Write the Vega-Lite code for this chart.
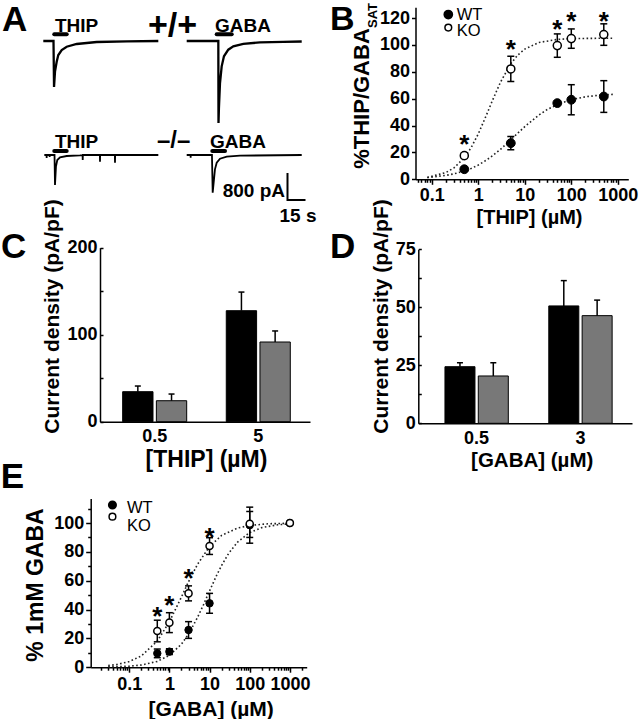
{
 "$schema": "https://vega.github.io/schema/vega-lite/v6.json",
 "width": 644, "height": 719, "autosize": {"type": "none"}, "padding": 0, "background": "white",
 "config": {
  "font": "Liberation Sans",
  "view": {"stroke": null},
  "axis": {"domainColor": "black", "domainWidth": 1.5, "tickColor": "black", "tickWidth": 1.5, "tickSize": 4,
   "labelColor": "black", "labelFont": "Liberation Sans", "labelFontSize": 18, "labelFontWeight": "bold", "labelPadding": 2,
   "titleColor": "black", "titleFont": "Liberation Sans", "titleFontSize": 21, "titleFontWeight": "bold", "titlePadding": 6,
   "grid": false, "labelOverlap": false, "labelFlush": false},
  "text": {"font": "Liberation Sans", "color": "black"}
 },
 "datasets": {
  "aTop": [
   {"drug": "THIP", "t": 0.25, "I": 0}, {"drug": "THIP", "t": 8.1, "I": 0}, {"drug": "THIP", "t": 8.75, "I": 0},
   {"drug": "THIP", "t": 9.2, "I": -1363}, {"drug": "THIP", "t": 10, "I": -909}, {"drug": "THIP", "t": 11.4, "I": -613},
   {"drug": "THIP", "t": 12.75, "I": -415}, {"drug": "THIP", "t": 15.6, "I": -267}, {"drug": "THIP", "t": 19.75, "I": -169},
   {"drug": "THIP", "t": 28.1, "I": -89}, {"drug": "THIP", "t": 44.75, "I": -30}, {"drug": "THIP", "t": 70, "I": -10},
   {"drug": "THIP", "t": 96.1, "I": 0},
   {"drug": "GABA", "t": 119.75, "I": 0}, {"drug": "GABA", "t": 144.75, "I": 0}, {"drug": "GABA", "t": 146.1, "I": 0},
   {"drug": "GABA", "t": 146.25, "I": -2430}, {"drug": "GABA", "t": 146.6, "I": -2000}, {"drug": "GABA", "t": 147.5, "I": -1245},
   {"drug": "GABA", "t": 148.9, "I": -750}, {"drug": "GABA", "t": 150.8, "I": -454}, {"drug": "GABA", "t": 154.4, "I": -257},
   {"drug": "GABA", "t": 158.6, "I": -158}, {"drug": "GABA", "t": 166.9, "I": -87}, {"drug": "GABA", "t": 180.8, "I": -40},
   {"drug": "GABA", "t": 200.25, "I": -27}, {"drug": "GABA", "t": 215.6, "I": -15}
  ],
  "aBot": [
   {"drug": "THIP", "t": 1.1, "I": 0}, {"drug": "THIP", "t": 3, "I": 0}, {"drug": "THIP", "t": 3.05, "I": -90}, {"drug": "THIP", "t": 3.1, "I": 0},
   {"drug": "THIP", "t": 5.5, "I": 0}, {"drug": "THIP", "t": 5.55, "I": -60}, {"drug": "THIP", "t": 5.6, "I": 0},
   {"drug": "THIP", "t": 8.6, "I": 0}, {"drug": "THIP", "t": 9.6, "I": 0}, {"drug": "THIP", "t": 10, "I": -889},
   {"drug": "THIP", "t": 10.8, "I": -346}, {"drug": "THIP", "t": 11.9, "I": -148}, {"drug": "THIP", "t": 14.2, "I": -69},
   {"drug": "THIP", "t": 19.75, "I": -30}, {"drug": "THIP", "t": 30.8, "I": -9},
   {"drug": "THIP", "t": 33, "I": 0}, {"drug": "THIP", "t": 33.1, "I": -150}, {"drug": "THIP", "t": 33.2, "I": 0},
   {"drug": "THIP", "t": 47.4, "I": 0}, {"drug": "THIP", "t": 47.5, "I": -198}, {"drug": "THIP", "t": 47.6, "I": 0},
   {"drug": "THIP", "t": 59.9, "I": 0}, {"drug": "THIP", "t": 60, "I": -227}, {"drug": "THIP", "t": 60.1, "I": 0},
   {"drug": "THIP", "t": 96.1, "I": 0},
   {"drug": "GABA", "t": 119.75, "I": 0}, {"drug": "GABA", "t": 123, "I": 0}, {"drug": "GABA", "t": 123.05, "I": -80}, {"drug": "GABA", "t": 123.1, "I": 0},
   {"drug": "GABA", "t": 139.2, "I": 0}, {"drug": "GABA", "t": 140.8, "I": 0}, {"drug": "GABA", "t": 141.4, "I": -1116},
   {"drug": "GABA", "t": 143.3, "I": -425}, {"drug": "GABA", "t": 144.75, "I": -227}, {"drug": "GABA", "t": 147.5, "I": -109},
   {"drug": "GABA", "t": 153.1, "I": -49}, {"drug": "GABA", "t": 164.2, "I": -20}, {"drug": "GABA", "t": 215.6, "I": 0}
  ],
  "aTopBars": [{"drug": "THIP", "t": 9.4, "t2": 19.75, "I": 198}, {"drug": "GABA", "t": 144.75, "t2": 157.25, "I": 198}],
  "aBotBars": [{"drug": "THIP", "t": 9.4, "t2": 19.75, "I": 119}, {"drug": "GABA", "t": 141.1, "t2": 151.7, "I": 119}],
  "aTopText": [{"label": "THIP", "t": 10, "I": 267}, {"label": "GABA", "t": 143.3, "I": 267}],
  "aBotText": [{"label": "THIP", "t": 10, "I": 222}, {"label": "GABA", "t": 139.2, "I": 222}],
  "scaleBar": [{"k": 0, "t": 203.75, "I": -533}, {"k": 1, "t": 203.75, "I": -1333}, {"k": 2, "t": 218.75, "I": -1333}],
  "bPts": [
   {"genotype": "WT", "conc": 0.5, "mean": 7.5, "lo": 6, "hi": 9},
   {"genotype": "WT", "conc": 5, "mean": 26.9, "lo": 22, "hi": 31.8},
   {"genotype": "WT", "conc": 50, "mean": 56.7, "lo": 55.5, "hi": 58},
   {"genotype": "WT", "conc": 100, "mean": 59.2, "lo": 48, "hi": 70.4},
   {"genotype": "WT", "conc": 500, "mean": 61.6, "lo": 49.8, "hi": 73.4},
   {"genotype": "KO", "conc": 0.5, "mean": 17.6, "lo": 15.6, "hi": 19.6},
   {"genotype": "KO", "conc": 5, "mean": 82.1, "lo": 72.7, "hi": 91.5},
   {"genotype": "KO", "conc": 50, "mean": 99.5, "lo": 90.8, "hi": 108.2},
   {"genotype": "KO", "conc": 100, "mean": 104.7, "lo": 97.5, "hi": 111.9},
   {"genotype": "KO", "conc": 500, "mean": 107.7, "lo": 99.7, "hi": 115.7}
  ],
  "bFit": [
   {"genotype": "KO", "conc": 0.08, "value": 1.4}, {"genotype": "KO", "conc": 0.2, "value": 5.0}, {"genotype": "KO", "conc": 0.3, "value": 8.5},
   {"genotype": "KO", "conc": 0.5, "value": 16.0}, {"genotype": "KO", "conc": 0.7, "value": 23.5}, {"genotype": "KO", "conc": 1, "value": 33.8},
   {"genotype": "KO", "conc": 1.5, "value": 47.9}, {"genotype": "KO", "conc": 2, "value": 58.4}, {"genotype": "KO", "conc": 3, "value": 72.3},
   {"genotype": "KO", "conc": 5, "value": 86.0}, {"genotype": "KO", "conc": 7, "value": 92.3}, {"genotype": "KO", "conc": 10, "value": 96.9},
   {"genotype": "KO", "conc": 20, "value": 101.8}, {"genotype": "KO", "conc": 50, "value": 104.1}, {"genotype": "KO", "conc": 100, "value": 104.7},
   {"genotype": "KO", "conc": 300, "value": 104.9}, {"genotype": "KO", "conc": 800, "value": 105},
   {"genotype": "WT", "conc": 0.08, "value": 1.3}, {"genotype": "WT", "conc": 0.2, "value": 2.9}, {"genotype": "WT", "conc": 0.3, "value": 4.05},
   {"genotype": "WT", "conc": 0.5, "value": 6.2}, {"genotype": "WT", "conc": 0.7, "value": 8.1}, {"genotype": "WT", "conc": 1, "value": 10.6},
   {"genotype": "WT", "conc": 1.5, "value": 14.3}, {"genotype": "WT", "conc": 2, "value": 17.4}, {"genotype": "WT", "conc": 3, "value": 22.3},
   {"genotype": "WT", "conc": 5, "value": 29.4}, {"genotype": "WT", "conc": 7, "value": 34.2}, {"genotype": "WT", "conc": 10, "value": 39.2},
   {"genotype": "WT", "conc": 20, "value": 47.8}, {"genotype": "WT", "conc": 30, "value": 51.8}, {"genotype": "WT", "conc": 50, "value": 55.7},
   {"genotype": "WT", "conc": 100, "value": 59.3}, {"genotype": "WT", "conc": 200, "value": 61.4}, {"genotype": "WT", "conc": 400, "value": 62.6},
   {"genotype": "WT", "conc": 800, "value": 63.2}
  ],
  "bStar": [{"conc": 0.5, "y": 30.6}, {"conc": 5, "y": 101.5}, {"conc": 50, "y": 116.4}, {"conc": 100, "y": 122.6}, {"conc": 500, "y": 122.6}],
  "cBars": [
   {"conc": "0.5", "genotype": "WT", "mean": 34.5, "hi": 41},
   {"conc": "0.5", "genotype": "KO", "mean": 24.1, "hi": 31.8},
   {"conc": "5", "genotype": "WT", "mean": 127.6, "hi": 149},
   {"conc": "5", "genotype": "KO", "mean": 91.6, "hi": 104.3}
  ],
  "dBars": [
   {"conc": "0.5", "genotype": "WT", "mean": 24.4, "hi": 26.1},
   {"conc": "0.5", "genotype": "KO", "mean": 20.4, "hi": 26.1},
   {"conc": "3", "genotype": "WT", "mean": 50.6, "hi": 61.5},
   {"conc": "3", "genotype": "KO", "mean": 46.4, "hi": 53.1}
  ],
  "ePts": [
   {"genotype": "WT", "conc": 0.5, "mean": 9.6, "lo": 6.6, "hi": 12.6},
   {"genotype": "WT", "conc": 1, "mean": 10.8, "lo": 8.8, "hi": 12.8},
   {"genotype": "WT", "conc": 3, "mean": 25.8, "lo": 20, "hi": 31.6},
   {"genotype": "WT", "conc": 10, "mean": 44.3, "lo": 37.4, "hi": 51.2},
   {"genotype": "WT", "conc": 100, "mean": 98.5, "lo": 86, "hi": 111},
   {"genotype": "WT", "conc": 1000, "mean": 100, "lo": 100, "hi": 100},
   {"genotype": "KO", "conc": 0.5, "mean": 25.1, "lo": 17.6, "hi": 32.6},
   {"genotype": "KO", "conc": 1, "mean": 30.9, "lo": 24, "hi": 37.8},
   {"genotype": "KO", "conc": 3, "mean": 51.2, "lo": 46, "hi": 56.4},
   {"genotype": "KO", "conc": 10, "mean": 84, "lo": 78.2, "hi": 89.8},
   {"genotype": "KO", "conc": 100, "mean": 99.5, "lo": 90, "hi": 108},
   {"genotype": "KO", "conc": 1000, "mean": 100, "lo": 100, "hi": 100}
  ],
  "eFit": [
   {"genotype": "KO", "conc": 0.03, "value": 1.1}, {"genotype": "KO", "conc": 0.05, "value": 1.9}, {"genotype": "KO", "conc": 0.1, "value": 3.9},
   {"genotype": "KO", "conc": 0.2, "value": 7.8}, {"genotype": "KO", "conc": 0.5, "value": 18.1}, {"genotype": "KO", "conc": 1, "value": 31.5},
   {"genotype": "KO", "conc": 2, "value": 48.7}, {"genotype": "KO", "conc": 3, "value": 59.3}, {"genotype": "KO", "conc": 5, "value": 71.3},
   {"genotype": "KO", "conc": 10, "value": 83.7}, {"genotype": "KO", "conc": 20, "value": 91.4}, {"genotype": "KO", "conc": 50, "value": 96.5},
   {"genotype": "KO", "conc": 100, "value": 98.3}, {"genotype": "KO", "conc": 300, "value": 99.5}, {"genotype": "KO", "conc": 1000, "value": 99.8},
   {"genotype": "WT", "conc": 0.03, "value": 0.2}, {"genotype": "WT", "conc": 0.1, "value": 0.7}, {"genotype": "WT", "conc": 0.2, "value": 1.5},
   {"genotype": "WT", "conc": 0.5, "value": 4.0}, {"genotype": "WT", "conc": 1, "value": 8.2}, {"genotype": "WT", "conc": 2, "value": 16.0},
   {"genotype": "WT", "conc": 3, "value": 23.0}, {"genotype": "WT", "conc": 5, "value": 34.4}, {"genotype": "WT", "conc": 7, "value": 43.1},
   {"genotype": "WT", "conc": 10, "value": 52.9}, {"genotype": "WT", "conc": 15, "value": 63.7}, {"genotype": "WT", "conc": 20, "value": 70.6},
   {"genotype": "WT", "conc": 30, "value": 79.0}, {"genotype": "WT", "conc": 50, "value": 86.8}, {"genotype": "WT", "conc": 100, "value": 93.4},
   {"genotype": "WT", "conc": 200, "value": 96.8}, {"genotype": "WT", "conc": 500, "value": 98.8}, {"genotype": "WT", "conc": 1000, "value": 99.4}
  ],
  "eStar": [{"conc": 0.5, "y": 39.7}, {"conc": 1, "y": 47}, {"conc": 3, "y": 66.2}, {"conc": 10, "y": 94.7}]
 },
 "layer": [
  {
   "layer": [
    {"data": {"name": "aTop"}, "mark": {"type": "line", "color": "black", "strokeWidth": 2.3},
     "encoding": {
      "x": {"field": "t", "type": "quantitative", "scale": {"domain": [0, 220], "range": [43, 307], "nice": false, "zero": false}, "axis": null},
      "y": {"field": "I", "type": "quantitative", "scale": {"domain": [-3000, 500], "range": [142.25, 24.125], "nice": false, "zero": false}, "axis": null},
      "detail": {"field": "drug", "type": "nominal"}}},
    {"data": {"name": "aTopBars"}, "mark": {"type": "rule", "color": "black", "strokeWidth": 4, "strokeCap": "round"},
     "encoding": {"x": {"field": "t", "type": "quantitative", "axis": null}, "x2": {"field": "t2"}, "y": {"field": "I", "type": "quantitative", "axis": null}}},
    {"data": {"name": "aTopText"}, "mark": {"type": "text", "align": "left", "baseline": "alphabetic", "fontSize": 19, "fontWeight": "bold", "color": "black"},
     "encoding": {"x": {"field": "t", "type": "quantitative", "axis": null}, "y": {"field": "I", "type": "quantitative", "axis": null}, "text": {"field": "label"}}},
    {"data": {"values": [{}]}, "mark": {"type": "text", "text": "+/+", "align": "left", "baseline": "alphabetic", "fontSize": 34, "fontWeight": "bold", "color": "black"},
     "encoding": {"x": {"datum": 87.5, "type": "quantitative", "axis": null}, "y": {"datum": 148, "type": "quantitative", "axis": null}}},
    {"data": {"values": [{}]}, "mark": {"type": "text", "text": "A", "align": "left", "baseline": "alphabetic", "fontSize": 35, "fontWeight": "bold", "color": "black"},
     "encoding": {"x": {"datum": -34.2, "type": "quantitative", "axis": null}, "y": {"datum": 296, "type": "quantitative", "axis": null}}}
   ]
  },
  {
   "layer": [
    {"data": {"name": "aBot"}, "mark": {"type": "line", "color": "black", "strokeWidth": 1.8},
     "encoding": {
      "x": {"field": "t", "type": "quantitative", "scale": {"domain": [0, 220], "range": [43, 307], "nice": false, "zero": false}, "axis": null},
      "y": {"field": "I", "type": "quantitative", "scale": {"domain": [-3000, 500], "range": [256.25, 138.125], "nice": false, "zero": false}, "axis": null},
      "detail": {"field": "drug", "type": "nominal"}}},
    {"data": {"name": "aBotBars"}, "mark": {"type": "rule", "color": "black", "strokeWidth": 4, "strokeCap": "round"},
     "encoding": {"x": {"field": "t", "type": "quantitative", "axis": null}, "x2": {"field": "t2"}, "y": {"field": "I", "type": "quantitative", "axis": null}}},
    {"data": {"name": "aBotText"}, "mark": {"type": "text", "align": "left", "baseline": "alphabetic", "fontSize": 19, "fontWeight": "bold", "color": "black"},
     "encoding": {"x": {"field": "t", "type": "quantitative", "axis": null}, "y": {"field": "I", "type": "quantitative", "axis": null}, "text": {"field": "label"}}},
    {"data": {"name": "scaleBar"}, "mark": {"type": "line", "color": "black", "strokeWidth": 2},
     "encoding": {"x": {"field": "t", "type": "quantitative", "axis": null}, "y": {"field": "I", "type": "quantitative", "axis": null}, "order": {"field": "k", "type": "quantitative"}}},
    {"data": {"values": [{}]}, "mark": {"type": "text", "text": "–/–", "align": "left", "baseline": "alphabetic", "fontSize": 24, "fontWeight": "bold", "color": "black"},
     "encoding": {"x": {"datum": 95, "type": "quantitative", "axis": null}, "y": {"datum": 207, "type": "quantitative", "axis": null}}},
    {"data": {"values": [{}]}, "mark": {"type": "text", "text": "800 pA", "align": "right", "baseline": "alphabetic", "fontSize": 19, "fontWeight": "bold", "color": "black"},
     "encoding": {"x": {"datum": 201.7, "type": "quantitative", "axis": null}, "y": {"datum": -1244, "type": "quantitative", "axis": null}}},
    {"data": {"values": [{}]}, "mark": {"type": "text", "text": "15 s", "align": "center", "baseline": "alphabetic", "fontSize": 19, "fontWeight": "bold", "color": "black"},
     "encoding": {"x": {"datum": 212.5, "type": "quantitative", "axis": null}, "y": {"datum": -1985, "type": "quantitative", "axis": null}}},
    {"data": {"values": [{}]}, "mark": {"type": "text", "text": "C", "align": "left", "baseline": "alphabetic", "fontSize": 35, "fontWeight": "bold", "color": "black"},
     "encoding": {"x": {"datum": -35, "type": "quantitative", "axis": null}, "y": {"datum": -3052, "type": "quantitative", "axis": null}}}
   ]
  },
  {
   "layer": [
    {"data": {"name": "bFit"}, "mark": {"type": "line", "color": "#222222", "strokeWidth": 1.6, "strokeDash": [1.6, 2.4]},
     "encoding": {
      "x": {"field": "conc", "type": "quantitative", "scale": {"type": "log", "domain": [0.0446, 1683], "range": [415.5, 628.3], "nice": false}, "axis": null},
      "y": {"field": "value", "type": "quantitative", "scale": {"domain": [0, 128], "range": [179.3, 7.3], "nice": false, "zero": false}, "axis": null},
      "detail": {"field": "genotype", "type": "nominal"}}},
    {"data": {"name": "bPts"}, "mark": {"type": "rule", "color": "black", "strokeWidth": 1.5},
     "encoding": {"x": {"field": "conc", "type": "quantitative", "axis": null}, "y": {"field": "lo", "type": "quantitative", "axis": null}, "y2": {"field": "hi"}}},
    {"data": {"name": "bPts"}, "mark": {"type": "tick", "orient": "horizontal", "color": "black", "size": 7, "thickness": 1.5, "opacity": 1},
     "encoding": {"x": {"field": "conc", "type": "quantitative", "axis": null}, "y": {"field": "hi", "type": "quantitative", "axis": null}}},
    {"data": {"name": "bPts"}, "mark": {"type": "tick", "orient": "horizontal", "color": "black", "size": 7, "thickness": 1.5, "opacity": 1},
     "encoding": {"x": {"field": "conc", "type": "quantitative", "axis": null}, "y": {"field": "lo", "type": "quantitative", "axis": null}}},
    {"data": {"name": "bPts"}, "transform": [{"filter": "datum.genotype == 'WT'"}],
     "mark": {"type": "point", "shape": "circle", "filled": true, "fill": "black", "stroke": "black", "strokeWidth": 1, "size": 78, "opacity": 1},
     "encoding": {"x": {"field": "conc", "type": "quantitative", "axis": null}, "y": {"field": "mean", "type": "quantitative", "axis": null}}},
    {"data": {"name": "bPts"}, "transform": [{"filter": "datum.genotype == 'KO'"}],
     "mark": {"type": "point", "shape": "circle", "filled": true, "fill": "white", "stroke": "black", "strokeWidth": 1.5, "size": 65, "opacity": 1},
     "encoding": {"x": {"field": "conc", "type": "quantitative", "axis": null}, "y": {"field": "mean", "type": "quantitative", "axis": null}}},
    {"data": {"name": "bStar"}, "mark": {"type": "text", "text": "*", "fontSize": 26, "fontWeight": "bold", "align": "center", "baseline": "alphabetic", "dy": 15, "color": "black"},
     "encoding": {"x": {"field": "conc", "type": "quantitative", "axis": null}, "y": {"field": "y", "type": "quantitative", "axis": null}}},
    {"data": {"values": [{}]}, "mark": {"type": "point", "shape": "circle", "filled": true, "fill": "black", "stroke": "black", "size": 60, "opacity": 1},
     "encoding": {"x": {"datum": 0.2264, "type": "quantitative", "axis": null}, "y": {"datum": 122.6, "type": "quantitative", "axis": null}}},
    {"data": {"values": [{}]}, "mark": {"type": "point", "shape": "circle", "filled": true, "fill": "white", "stroke": "black", "strokeWidth": 1.5, "size": 45, "opacity": 1},
     "encoding": {"x": {"datum": 0.2264, "type": "quantitative", "axis": null}, "y": {"datum": 112.9, "type": "quantitative", "axis": null}}},
    {"data": {"values": [{}]}, "mark": {"type": "text", "text": "WT", "align": "left", "baseline": "alphabetic", "fontSize": 16.5, "color": "black"},
     "encoding": {"x": {"datum": 0.343, "type": "quantitative", "axis": null}, "y": {"datum": 118.9, "type": "quantitative", "axis": null}}},
    {"data": {"values": [{}]}, "mark": {"type": "text", "text": "KO", "align": "left", "baseline": "alphabetic", "fontSize": 16.5, "color": "black"},
     "encoding": {"x": {"datum": 0.343, "type": "quantitative", "axis": null}, "y": {"datum": 106.5, "type": "quantitative", "axis": null}}},
    {"data": {"values": [{}]}, "mark": {"type": "text", "text": "SAT", "align": "center", "baseline": "middle", "angle": 270, "fontSize": 13, "fontWeight": "bold", "color": "black"},
     "encoding": {"x": {"datum": 0.00544, "type": "quantitative", "axis": null}, "y": {"datum": 121.9, "type": "quantitative", "axis": null}}},
    {"data": {"values": [{}]}, "mark": {"type": "text", "text": "B", "align": "left", "baseline": "alphabetic", "fontSize": 34, "fontWeight": "bold", "color": "black"},
     "encoding": {"x": {"datum": 0.000647, "type": "quantitative", "axis": null}, "y": {"datum": 111.4, "type": "quantitative", "axis": null}}},
    {"data": {"values": [{}]}, "mark": {"type": "text", "text": "D", "align": "left", "baseline": "alphabetic", "fontSize": 35, "fontWeight": "bold", "color": "black"},
     "encoding": {"x": {"datum": 0.000647, "type": "quantitative", "axis": null}, "y": {"datum": -58.7, "type": "quantitative", "axis": null}}}
   ]
  },
  {"data": {"values": [{}]}, "mark": {"type": "point", "opacity": 0},
   "encoding": {
    "x": {"datum": 1, "type": "quantitative", "scale": {"type": "log", "domain": [0.0446, 1683], "range": [415.5, 628.3], "nice": false},
     "axis": {"orient": "bottom", "offset": -539.7, "values": [0.1, 1, 10, 100, 1000], "format": "~g", "tickSize": 5, "labelPadding": 2,
      "title": "[THIP] (µM)", "titleFontSize": 20, "titleX": 529, "titlePadding": 3}},
    "y": {"datum": 0, "type": "quantitative", "scale": {"domain": [0, 128], "range": [179.3, 7.3], "nice": false, "zero": false},
     "axis": {"orient": "left", "offset": -415.5, "values": [0, 20, 40, 60, 80, 100, 120], "tickSize": 4,
      "title": "%THIP/GABA", "titleFontSize": 22, "titleY": 98, "titlePadding": 6}}}},
  {"data": {"values": [{}]}, "mark": {"type": "point", "opacity": 0},
   "encoding": {
    "x": {"datum": 1, "type": "quantitative", "scale": {"type": "log", "domain": [0.0446, 1683], "range": [415.5, 628.3], "nice": false},
     "axis": {"orient": "bottom", "offset": -539.7, "values": [0.05,0.06,0.07,0.08,0.09,0.2,0.3,0.4,0.5,0.6,0.7,0.8,0.9,2,3,4,5,6,7,8,9,20,30,40,50,60,70,80,90,200,300,400,500,600,700,800,900], "labels": false, "domain": false, "tickSize": 3, "title": null}},
    "y": {"datum": 0, "type": "quantitative", "scale": {"domain": [0, 128], "range": [179.3, 7.3], "nice": false}, "axis": null}}},
  {
   "data": {"name": "cBars"},
   "layer": [
    {"mark": {"type": "bar", "stroke": "black", "strokeWidth": 1},
     "encoding": {
      "x": {"field": "conc", "type": "nominal", "sort": ["0.5", "5"], "scale": {"range": [100, 310], "paddingInner": 0.382, "paddingOuter": 0.2045, "align": 0.535}, "axis": null},
      "xOffset": {"field": "genotype", "type": "nominal", "sort": ["WT", "KO"], "scale": {"paddingInner": 0.1}},
      "y": {"field": "mean", "type": "quantitative", "scale": {"domain": [0, 200], "range": [421.7, 247.7], "nice": false}, "axis": null},
      "color": {"field": "genotype", "type": "nominal", "scale": {"domain": ["WT", "KO"], "range": ["#000000", "#787878"]}, "legend": null}}},
    {"mark": {"type": "rule", "color": "black", "strokeWidth": 1.5},
     "encoding": {"x": {"field": "conc", "type": "nominal", "sort": ["0.5", "5"], "axis": null}, "xOffset": {"field": "genotype", "type": "nominal", "sort": ["WT", "KO"]},
      "y": {"field": "mean", "type": "quantitative", "axis": null}, "y2": {"field": "hi"}}},
    {"mark": {"type": "tick", "orient": "horizontal", "color": "black", "size": 6, "thickness": 1.5, "opacity": 1},
     "encoding": {"x": {"field": "conc", "type": "nominal", "sort": ["0.5", "5"], "axis": null}, "xOffset": {"field": "genotype", "type": "nominal", "sort": ["WT", "KO"]},
      "y": {"field": "hi", "type": "quantitative", "axis": null}}}
   ]
  },
  {"data": {"name": "cBars"}, "mark": {"type": "point", "opacity": 0},
   "encoding": {
    "x": {"field": "conc", "type": "nominal", "scale": {"type": "band", "domain": ["0.5", "5"], "range": [100, 310], "paddingInner": 0.382, "paddingOuter": 0.2045, "align": 0.535},
     "axis": {"orient": "bottom", "offset": -297.3, "ticks": false, "labelAngle": 0, "labelPadding": 6, "title": "[THIP] (µM)", "titleFontSize": 23, "titleX": 206, "titlePadding": 3}},
    "y": {"field": "mean", "type": "quantitative", "scale": {"domain": [0, 200], "range": [421.7, 247.7], "nice": false},
     "axis": {"orient": "left", "offset": -100, "values": [0, 50, 100, 150, 200], "labelExpr": "datum.value % 100 == 0 ? datum.label : ''", "tickSize": -3, "labelPadding": 6,
      "title": "Current density (pA/pF)", "titleY": 316, "titlePadding": 4}}}},
  {
   "data": {"name": "dBars"},
   "layer": [
    {"mark": {"type": "bar", "stroke": "black", "strokeWidth": 1},
     "encoding": {
      "x": {"field": "conc", "type": "nominal", "sort": ["0.5", "3"], "scale": {"range": [418.3, 632], "paddingInner": 0.39, "paddingOuter": 0.224, "align": 0.573}, "axis": null},
      "xOffset": {"field": "genotype", "type": "nominal", "sort": ["WT", "KO"], "scale": {"paddingInner": 0.1}},
      "y": {"field": "mean", "type": "quantitative", "scale": {"domain": [0, 75], "range": [423.3, 249.3], "nice": false}, "axis": null},
      "color": {"field": "genotype", "type": "nominal", "scale": {"domain": ["WT", "KO"], "range": ["#000000", "#787878"]}, "legend": null}}},
    {"mark": {"type": "rule", "color": "black", "strokeWidth": 1.5},
     "encoding": {"x": {"field": "conc", "type": "nominal", "sort": ["0.5", "3"], "axis": null}, "xOffset": {"field": "genotype", "type": "nominal", "sort": ["WT", "KO"]},
      "y": {"field": "mean", "type": "quantitative", "axis": null}, "y2": {"field": "hi"}}},
    {"mark": {"type": "tick", "orient": "horizontal", "color": "black", "size": 6, "thickness": 1.5, "opacity": 1},
     "encoding": {"x": {"field": "conc", "type": "nominal", "sort": ["0.5", "3"], "axis": null}, "xOffset": {"field": "genotype", "type": "nominal", "sort": ["WT", "KO"]},
      "y": {"field": "hi", "type": "quantitative", "axis": null}}}
   ]
  },
  {"data": {"name": "dBars"}, "mark": {"type": "point", "opacity": 0},
   "encoding": {
    "x": {"field": "conc", "type": "nominal", "scale": {"type": "band", "domain": ["0.5", "3"], "range": [418.3, 632], "paddingInner": 0.39, "paddingOuter": 0.224, "align": 0.573},
     "axis": {"orient": "bottom", "offset": -295.7, "ticks": false, "labelAngle": 0, "labelPadding": 6, "title": "[GABA] (µM)", "titleFontSize": 20.5, "titleX": 531.7, "titlePadding": 3}},
    "y": {"field": "mean", "type": "quantitative", "scale": {"domain": [0, 75], "range": [423.3, 249.3], "nice": false},
     "axis": {"orient": "left", "offset": -418.3, "values": [0, 12.5, 25, 37.5, 50, 62.5, 75], "labelExpr": "datum.value % 25 == 0 ? datum.label : ''", "tickSize": -3, "labelPadding": 6,
      "title": "Current density (pA/pF)", "titleY": 316, "titlePadding": 4}}}},
  {
   "layer": [
    {"data": {"name": "eFit"}, "mark": {"type": "line", "color": "#222222", "strokeWidth": 1.6, "strokeDash": [1.6, 2.4]},
     "encoding": {
      "x": {"field": "conc", "type": "quantitative", "scale": {"type": "log", "domain": [0.011, 2620], "range": [90.7, 306.7], "nice": false}, "axis": null},
      "y": {"field": "value", "type": "quantitative", "scale": {"domain": [0, 117], "range": [667.2, 498.5], "nice": false, "zero": false}, "axis": null},
      "detail": {"field": "genotype", "type": "nominal"}}},
    {"data": {"name": "ePts"}, "mark": {"type": "rule", "color": "black", "strokeWidth": 1.5},
     "encoding": {"x": {"field": "conc", "type": "quantitative", "axis": null}, "y": {"field": "lo", "type": "quantitative", "axis": null}, "y2": {"field": "hi"}}},
    {"data": {"name": "ePts"}, "mark": {"type": "tick", "orient": "horizontal", "color": "black", "size": 7, "thickness": 1.5, "opacity": 1},
     "encoding": {"x": {"field": "conc", "type": "quantitative", "axis": null}, "y": {"field": "hi", "type": "quantitative", "axis": null}}},
    {"data": {"name": "ePts"}, "mark": {"type": "tick", "orient": "horizontal", "color": "black", "size": 7, "thickness": 1.5, "opacity": 1},
     "encoding": {"x": {"field": "conc", "type": "quantitative", "axis": null}, "y": {"field": "lo", "type": "quantitative", "axis": null}}},
    {"data": {"name": "ePts"}, "transform": [{"filter": "datum.genotype == 'WT'"}],
     "mark": {"type": "point", "shape": "circle", "filled": true, "fill": "black", "stroke": "black", "strokeWidth": 1, "size": 55, "opacity": 1},
     "encoding": {"x": {"field": "conc", "type": "quantitative", "axis": null}, "y": {"field": "mean", "type": "quantitative", "axis": null}}},
    {"data": {"name": "ePts"}, "transform": [{"filter": "datum.genotype == 'KO'"}],
     "mark": {"type": "point", "shape": "circle", "filled": true, "fill": "white", "stroke": "black", "strokeWidth": 1.5, "size": 50, "opacity": 1},
     "encoding": {"x": {"field": "conc", "type": "quantitative", "axis": null}, "y": {"field": "mean", "type": "quantitative", "axis": null}}},
    {"data": {"name": "eStar"}, "mark": {"type": "text", "text": "*", "fontSize": 26, "fontWeight": "bold", "align": "center", "baseline": "alphabetic", "dy": 15, "color": "black"},
     "encoding": {"x": {"field": "conc", "type": "quantitative", "axis": null}, "y": {"field": "y", "type": "quantitative", "axis": null}}},
    {"data": {"values": [{}]}, "mark": {"type": "point", "shape": "circle", "filled": true, "fill": "black", "stroke": "black", "size": 50, "opacity": 1},
     "encoding": {"x": {"datum": 0.03824, "type": "quantitative", "axis": null}, "y": {"datum": 112.5, "type": "quantitative", "axis": null}}},
    {"data": {"values": [{}]}, "mark": {"type": "point", "shape": "circle", "filled": true, "fill": "white", "stroke": "black", "strokeWidth": 1.5, "size": 45, "opacity": 1},
     "encoding": {"x": {"datum": 0.03824, "type": "quantitative", "axis": null}, "y": {"datum": 104.4, "type": "quantitative", "axis": null}}},
    {"data": {"values": [{}]}, "mark": {"type": "text", "text": "WT", "align": "left", "baseline": "alphabetic", "fontSize": 16.5, "color": "black"},
     "encoding": {"x": {"datum": 0.0876, "type": "quantitative", "axis": null}, "y": {"datum": 106.8, "type": "quantitative", "axis": null}}},
    {"data": {"values": [{}]}, "mark": {"type": "text", "text": "KO", "align": "left", "baseline": "alphabetic", "fontSize": 16.5, "color": "black"},
     "encoding": {"x": {"datum": 0.0876, "type": "quantitative", "axis": null}, "y": {"datum": 94.8, "type": "quantitative", "axis": null}}},
    {"data": {"values": [{}]}, "mark": {"type": "text", "text": "E", "align": "left", "baseline": "alphabetic", "fontSize": 35, "fontWeight": "bold", "color": "black"},
     "encoding": {"x": {"datum": 0.000063, "type": "quantitative", "axis": null}, "y": {"datum": 124.3, "type": "quantitative", "axis": null}}}
   ]
  },
  {"data": {"values": [{}]}, "mark": {"type": "point", "opacity": 0},
   "encoding": {
    "x": {"datum": 1, "type": "quantitative", "scale": {"type": "log", "domain": [0.011, 2620], "range": [90.7, 306.7], "nice": false},
     "axis": {"orient": "bottom", "offset": -51.8, "values": [0.1, 1, 10, 100, 1000], "format": "~g", "tickSize": 5, "labelPadding": 3,
      "title": "[GABA] (µM)", "titleFontSize": 21, "titleX": 210.7, "titlePadding": 5}},
    "y": {"datum": 0, "type": "quantitative", "scale": {"domain": [0, 117], "range": [667.2, 498.5], "nice": false, "zero": false},
     "axis": {"orient": "left", "offset": -90.7, "values": [0, 20, 40, 60, 80, 100], "tickSize": 5,
      "title": "% 1mM GABA", "titleFontSize": 23, "titleY": 584.5, "titlePadding": 6}}}},
  {"data": {"values": [{}]}, "mark": {"type": "point", "opacity": 0},
   "encoding": {
    "x": {"datum": 1, "type": "quantitative", "scale": {"type": "log", "domain": [0.011, 2620], "range": [90.7, 306.7], "nice": false},
     "axis": {"orient": "bottom", "offset": -51.8, "values": [0.02,0.03,0.04,0.05,0.06,0.07,0.08,0.09,0.2,0.3,0.4,0.5,0.6,0.7,0.8,0.9,2,3,4,5,6,7,8,9,20,30,40,50,60,70,80,90,200,300,400,500,600,700,800,900,2000], "labels": false, "domain": false, "tickSize": 3, "title": null}},
    "y": {"datum": 0, "type": "quantitative", "scale": {"domain": [0, 117], "range": [667.2, 498.5], "nice": false},
     "axis": {"orient": "left", "offset": -90.7, "values": [10, 30, 50, 70, 90, 110], "labels": false, "domain": false, "tickSize": 3, "title": null}}}}
 ],
 "resolve": {"scale": {"x": "independent", "y": "independent", "xOffset": "independent", "color": "independent"}, "axis": {"x": "independent", "y": "independent"}}
}
